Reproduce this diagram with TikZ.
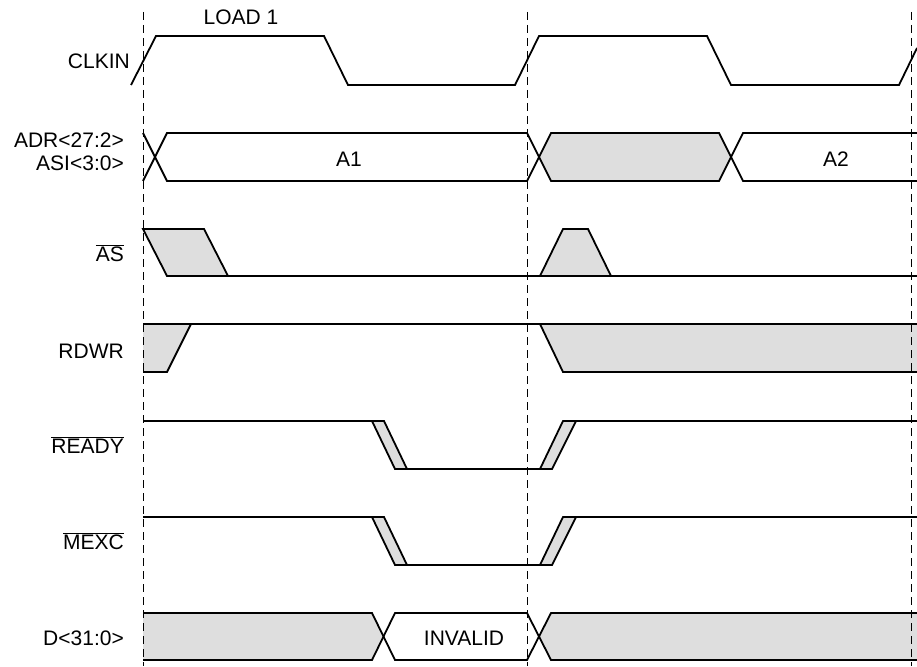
\documentclass[tikz,border=0pt]{standalone}
\usepackage{tikz}
\usepackage{fontspec}
\setmainfont{Liberation Sans}
\colorlet{busgray}{black!13}
\usetikzlibrary{positioning}
\tikzstyle{wave}=[line width=1.8pt]
\tikzstyle{grayfill}=[fill=busgray]
\tikzstyle{guide}=[dash pattern=on 8pt off 5pt, line width=0.9pt]
\tikzstyle{signame}=[anchor=base east, inner sep=0pt,
  font=\fontsize{21}{24}\selectfont]
\tikzstyle{buslabel}=[anchor=base, inner sep=0pt,
  font=\fontsize{21}{24}\selectfont]

\begin{document}
\begin{tikzpicture}[x=1pt, y=-1pt]
  \useasboundingbox (0,0) rectangle (917,666);

  % signal names
  \node[signame] (clkin) at (130,69) {CLKIN};
  \node[signame] (adr) at (124,147) {ADR<27:2>};
  \node[signame, below=23pt of adr.base east, anchor=base east] (asi) {ASI<3:0>};
  \node[signame] (as) at (124,261) {$\overline{\mbox{AS}}$};
  \node[signame] (rdwr) at (124,358) {RDWR};
  \node[signame] (ready) at (124,453) {$\overline{\mbox{READY}}$};
  \node[signame] (mexc) at (124,549) {$\overline{\mbox{MEXC}}$};
  \node[signame] (data) at (124,645) {D<31:0>};

  % CLKIN
  \node[buslabel] (load) at (241,25) {LOAD 1};
  \draw[wave] (131,85) -- (156,36) -- (324,36) -- (348,85) -- (515,85) --
  (539,36) -- (707,36) -- (731,85) -- (899,85) -- (917,48);

  % ADR / ASI
  \fill[grayfill] (539,157) -- (551,133) -- (719,133) -- (731,157) --
  (719,181) -- (551,181) -- cycle;
  \draw[wave] (143,181) -- (167,133) -- (527,133) -- (551,181) -- (719,181) --
  (743,133) -- (917,133);
  \draw[wave] (143,133) -- (167,181) -- (527,181) -- (551,133) -- (719,133) --
  (743,181) -- (917,181);
  \node[buslabel] (a1) at (349,166) {A1};
  \node[buslabel] (a2) at (836,166) {A2};

  % AS
  \filldraw[wave, grayfill] (143,229) -- (204,229) -- (228,276) -- (167,276) -- cycle;
  \filldraw[wave, grayfill] (540,276) -- (563,229) -- (588,229) -- (611,276);
  \draw[wave] (167,276) -- (917,276);

  % RDWR
  \fill[grayfill] (143,324) -- (191,324) -- (167,372) -- (143,372) -- cycle;
  \fill[grayfill] (540,324) -- (563,372) -- (917,372) -- (917,324) -- cycle;
  \draw[wave] (143,372) -- (167,372) -- (191,324);
  \draw[wave] (143,324) -- (917,324);
  \draw[wave] (540,324) -- (563,372) -- (917,372);

  % READY and MEXC
  \foreach \hi/\lo in {421/469, 517/565} {
    \filldraw[wave, grayfill] (372,\hi) -- (384,\hi) -- (407,\lo) -- (395,\lo) -- cycle;
    \filldraw[wave, grayfill] (540,\lo) -- (552,\lo) -- (576,\hi) -- (563,\hi) -- cycle;
    \draw[wave] (143,\hi) -- (372,\hi) (395,\lo) -- (540,\lo) (563,\hi) -- (917,\hi);
  }

  % D
  \fill[grayfill] (143,613) -- (372,613) -- (384,636.5) -- (372,660) --
  (143,660) -- cycle;
  \fill[grayfill] (539,636.5) -- (551,613) -- (917,613) -- (917,660) --
  (551,660) -- cycle;
  \draw[wave] (143,613) -- (372,613) -- (395,660) -- (527,660) -- (551,613) -- (917,613);
  \draw[wave] (143,660) -- (372,660) -- (395,613) -- (527,613) -- (551,660) -- (917,660);
  \node[buslabel] (invalid) at (464,645) {INVALID};

  % clock edges
  \foreach \t in {143.5, 527.5, 911.5}
    \draw[guide] (\t,12) -- (\t,666);
\end{tikzpicture}
\end{document}
